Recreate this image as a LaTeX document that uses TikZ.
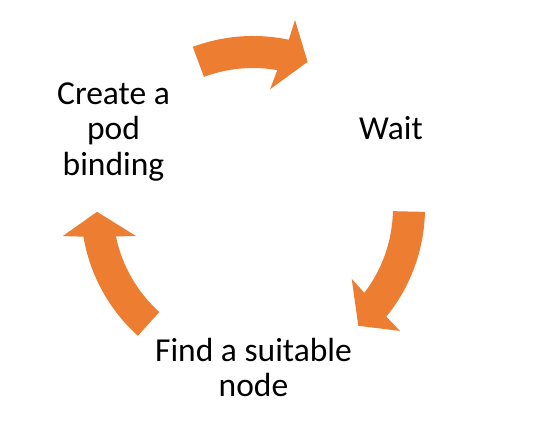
\documentclass[tikz,border=0pt]{standalone}
\usepackage{fontspec}
\setmainfont{Carlito}
\definecolor{arroworange}{HTML}{ED7D31}
\begin{document}
\begin{tikzpicture}[x=1pt,y=1pt,
  cyc/.style={fill=arroworange, draw=none},
  lbl/.style={font=\fontsize{33.5}{35.5}\selectfont, align=center, inner sep=0pt, text=black}]
\useasboundingbox (0,0) rectangle (533,427);
\coordinate (C) at (253,219);
\begin{scope}[shift={(C)}]
% top arrow
\fill[cyc] (110.5:172pt) arc[start angle=110.5,end angle=78,radius=172pt]
  -- (77.4:192.6pt) -- (69.5:156pt) -- (81.8:120pt) -- (80:140pt)
  arc[start angle=80,end angle=110.5,radius=140pt] -- cycle;
% right arrow
\fill[cyc] (-1.3:172pt) arc[start angle=-1.3,end angle=-39.2,radius=172pt]
  -- (-39.9:191.7pt) -- (-48.2:158pt) -- (-35.7:121.6pt) -- (-37.3:140pt)
  arc[start angle=-37.3,end angle=-1.3,radius=140pt] -- cycle;
% left arrow
\fill[cyc] (228:172pt) arc[start angle=228,end angle=189.6,radius=172pt]
  -- (188.4:192.3pt) -- (181.4:156pt) -- (193.5:120.3pt) -- (191.7:140pt)
  arc[start angle=191.7,end angle=228,radius=140pt] -- cycle;
\end{scope}
\node[lbl] (create) at (113.5,295) {Create a\\pod\\binding};
\node[lbl] (wait) at (391,299) {Wait};
\node[lbl] (find) at (253.5,59.5) {Find a suitable\\node};
\end{tikzpicture}
\end{document}
